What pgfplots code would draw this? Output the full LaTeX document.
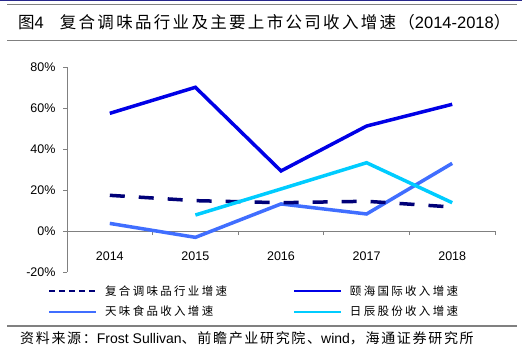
\documentclass[border=0pt]{standalone}
\usepackage{fontspec}
\setmainfont{Liberation Sans}
\newfontfamily\cjksrc[LetterSpace=12]{Noto Sans CJK SC}
\newfontfamily\cjkleg[LetterSpace=20]{Noto Sans CJK SC}
\newfontfamily\cjktitle[LetterSpace=14]{Noto Sans CJK SC}
\usepackage{pgfplots}
\pgfplotsset{compat=1.18}
\definecolor{cnavy}{RGB}{0,0,120}
\definecolor{cblue}{RGB}{0,0,230}
\definecolor{ctw}{RGB}{64,110,255}
\definecolor{ccyan}{RGB}{0,204,255}
\definecolor{cgray}{RGB}{128,128,128}
\definecolor{ctop}{RGB}{40,40,140}
\begin{document}
\begin{tikzpicture}
\path[use as bounding box] (0,0) rectangle (522bp,352bp);
\fill[ctop] (0,350.5bp) rectangle (522bp,352bp);
\draw[cgray, line width=0.8bp] (7bp,347.5bp) -- (517bp,347.5bp);
\node[anchor=west, inner sep=0pt, font=\fontsize{16.5bp}{18bp}\selectfont] at (18bp,330bp)
  {{\cjktitle 图}4\hspace{16bp}{\cjktitle 复合调味品行业及主要上市公司收入增速（}2014-2018{\cjktitle ）}};
\draw[cgray, line width=0.8bp] (7bp,312bp) -- (517bp,312bp);
\draw[cgray, line width=1.8bp] (7bp,26bp) -- (517bp,26bp);
\node[anchor=west, inner sep=0pt, font=\fontsize{14bp}{16bp}\selectfont] at (20bp,14bp)
  {{\cjksrc 资料来源：}Frost Sullivan{\cjksrc 、前瞻产业研究院、}wind{\cjksrc ，海通证券研究所}};
\begin{axis}[
  at={(67bp,80bp)}, anchor=south west, scale only axis,
  width=428bp, height=205bp,
  xmin=-0.5, xmax=4.5, ymin=-20, ymax=80,
  axis y line=left, axis x line=middle,
  axis line style={-, cgray, line width=0.8bp},
  ytick={-20,0,20,40,60,80},
  yticklabel={\pgfmathprintnumber{\tick}\%},
  xtick={0,1,2,3,4}, xticklabels={2014,2015,2016,2017,2018},
  minor xtick={-0.5,0.5,1.5,2.5,3.5,4.5},
  tick style={cgray, line width=0.8bp},
  major tick length=4bp, minor tick length=4bp,
  tick align=outside,
  every major x tick/.append style={draw=none},
  ticklabel style={font=\fontsize{12.5bp}{14bp}\selectfont},
  xticklabel style={yshift=-13bp},
  yticklabel style={xshift=-4bp},
  /pgf/number format/assume math mode=true,
  clip=false,
  legend columns=2,
  legend cell align=left,
  legend image code/.code={\draw[#1] (0bp,0bp) -- (47bp,0bp);},
  legend style={draw=none, fill=none, inner sep=0pt, row sep=9.5bp,
    at={(axis description cs:-0.044,-0.065)}, anchor=north west,
    nodes={inner sep=0pt, font=\fontsize{11.5bp}{13bp}\selectfont\cjkleg},
    /tikz/every odd column/.append style={column sep=8bp},
    /tikz/every even column/.append style={column sep=10bp}},
]
\addplot[ctw, line width=3.5bp, forget plot] coordinates {(0,3.7)(1,-3.1)(2,13.2)(3,8.3)(4,33.0)};
\addplot[cnavy, line width=3.5bp, dash pattern=on 15bp off 14bp, forget plot] coordinates {(0,17.4)(1,14.8)(2,13.8)(3,14.5)(4,11.7)};
\addplot[ccyan, line width=3.5bp, forget plot] coordinates {(1,7.8)(2,20.5)(3,33.3)(4,13.8)};
\addplot[cblue, line width=3.5bp, forget plot] coordinates {(0,57.4)(1,70.1)(2,29.3)(3,51.2)(4,61.8)};
\addlegendimage{cnavy, line width=1.8bp, dash pattern=on 6bp off 4bp}
\addlegendentry{\makebox[178bp][l]{复合调味品行业增速}}
\addlegendimage{cblue, line width=1.8bp}
\addlegendentry{颐海国际收入增速}
\addlegendimage{ctw, line width=1.8bp}
\addlegendentry{\makebox[178bp][l]{天味食品收入增速}}
\addlegendimage{ccyan, line width=1.8bp}
\addlegendentry{日辰股份收入增速}
\end{axis}
\end{tikzpicture}
\end{document}
